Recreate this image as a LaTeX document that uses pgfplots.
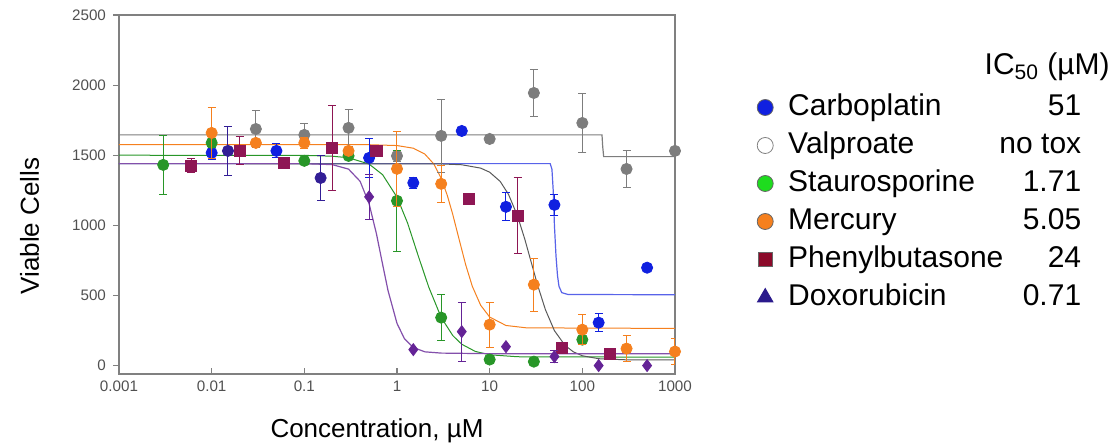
\documentclass[border=0pt]{standalone}
\usepackage{fontspec}
\setmainfont{Liberation Sans}
\usepackage{pgfplots}
\pgfplotsset{compat=1.18}
\definecolor{axgray}{RGB}{128,128,128}
\definecolor{tickgray}{RGB}{80,80,80}
\definecolor{cblue}{RGB}{16,32,224}
\definecolor{cgray}{RGB}{125,125,125}
\definecolor{cgreen}{RGB}{40,150,40}
\definecolor{corange}{RGB}{245,128,30}
\definecolor{cmaroon}{RGB}{142,22,84}
\definecolor{cpurple}{RGB}{100,35,150}
\definecolor{cindigo}{RGB}{50,30,150}
\definecolor{lgreen}{RGB}{30,220,30}
\definecolor{lmaroon}{RGB}{139,10,42}
\definecolor{lindigo}{RGB}{42,26,140}
\newcommand\legrow[2]{\makebox[110pt][l]{#1}\makebox[36.5pt][r]{#2}}
\begin{document}
\begin{tikzpicture}
\useasboundingbox (-59.5pt,-37pt) rectangle (497.5pt,187pt);
\begin{axis}[
 name=ax, at={(0,0)}, anchor=south west,
 scale only axis, width=278pt, height=179.5pt,
 xmode=log, log basis x=10,
 xmin=0.001, xmax=1000, ymin=-60, ymax=2500,
 xtick={0.001,0.01,0.1,1,10,100,1000},
 xticklabels={0.001,0.01,0.1,1,10,100,1000},
 ytick={0,500,1000,1500,2000,2500},
 yticklabels={0,500,1000,1500,2000,2500},
 xminorticks=false, yminorticks=false,
 xtick pos=bottom, ytick pos=left,
 xtick align=inside, ytick align=outside,
 major tick length=3pt,
 axis line style={color=axgray, line width=0.8pt},
 every tick/.style={color=axgray, line width=0.6pt},
 ticklabel style={font=\fontsize{7.6pt}{9pt}\selectfont, text=tickgray},
 /pgf/number format/assume math mode=true,
 xlabel={Concentration, µM}, ylabel={Viable Cells},
 label style={font=\fontsize{13pt}{15pt}\selectfont},
 xlabel style={at={(axis description cs:0.464,-0.178)}, anchor=base},
 ylabel style={at={(axis description cs:-0.144,0.412)}, anchor=base},
 clip mode=individual,
 legend style={at={(axis description cs:1.1364,0.7936)}, anchor=north west,
   draw=none, fill=none, font=\fontsize{15pt}{18pt}\selectfont,
   row sep=5pt, nodes={inner sep=0pt, text height=11pt, text depth=3pt},
   /tikz/every odd column/.append style={column sep=7.5pt}},
 legend cell align=left,
 error bars/error bar style={line width=0.5pt},
 error bars/error mark options={rotate=90, mark size=2pt, line width=0.5pt},
]
% ---- fitted curves ----
\addplot[cgray, line width=0.6pt, forget plot] coordinates {
 (0.001,1645) (163,1645) (166,1560) (170,1490) (1000,1490)};
\addplot[cblue!70, line width=0.6pt, forget plot] coordinates {
 (0.001,1440) (45,1440) (47,1400) (48.5,1250) (50,1000) (52,780) (54,640) (56,565) (60,520) (70,507) (1000,505)};
\addplot[corange, line width=0.5pt, forget plot] coordinates {
 (0.001,1575) (0.5,1575) (1,1569) (1.5,1550) (2,1508) (2.5,1437) (3,1335) (3.5,1211) (4,1077) (4.6,920) (5.5,721) (6.5,565) (8,430) (10,346) (15,286) (25,269) (1000,265)};
\addplot[cgreen, line width=0.5pt, forget plot] coordinates {
 (0.001,1500) (0.1,1499) (0.2,1493) (0.3,1482) (0.5,1437) (0.7,1361) (1,1201) (1.3,1017) (1.7,780) (2.2,560) (3,343) (4,214) (5,152) (7,101) (10,77) (20,63) (1000,60)};
\addplot[black!65, line width=0.5pt, forget plot] coordinates {
 (0.001,1440) (3,1438) (5,1432) (8,1408) (10,1379) (13,1313) (16,1220) (20,1066) (24,899) (28,740) (33,571) (40,398) (50,249) (65,144) (80,98) (100,70) (150,49) (300,41) (1000,40)};
\addplot[cpurple!80, line width=0.6pt, forget plot] coordinates {
 (0.001,1440) (0.1,1440) (0.2,1433) (0.3,1401) (0.4,1314) (0.5,1154) (0.6,940) (0.7,721) (0.8,535) (1,301) (1.2,193) (1.5,129) (2,98) (3,89) (10,85) (1000,85)};
% ---- data points ----
\addplot[only marks, mark=*, mark size=2.8pt, color=cgray, forget plot,
 error bars/.cd, y dir=both, y explicit] table[x=x, y=y, y error=e] {
x y e
0.03 1687 135
0.1 1645 80
0.3 1695 130
1 1495 40
3 1638 260
10 1616 20
30 1944 170
100 1730 210
300 1402 135
1000 1531 0
};
\addplot[only marks, mark=*, mark size=2.8pt, color=cblue, forget plot,
 error bars/.cd, y dir=both, y explicit] table[x=x, y=y, y error=e] {
x y e
0.01 1517 50
0.05 1531 50
0.5 1481 140
1.5 1303 40
5 1673 10
15 1132 100
50 1146 75
150 306 65
500 698 0
};
\addplot[only marks, mark=*, mark size=2.8pt, color=cindigo, forget plot,
 error bars/.cd, y dir=both, y explicit] table[x=x, y=y, y error=e] {
x y e
0.015 1531 175
0.15 1338 160
};
\addplot[only marks, mark=*, mark size=2.8pt, color=cgreen, forget plot,
 error bars/.cd, y dir=both, y explicit] table[x=x, y=y, y error=e] {
x y e
0.003 1431 210
0.01 1588 30
0.1 1460 20
0.3 1495 20
1 1175 360
3 342 165
10 43 0
30 28 0
100 185 0
};
\addplot[only marks, mark=*, mark size=2.8pt, color=corange, forget plot,
 error bars/.cd, y dir=both, y explicit] table[x=x, y=y, y error=e] {
x y e
0.01 1659 180
0.03 1588 20
0.1 1588 40
0.3 1531 20
1 1403 267
3 1296 130
10 292 160
30 577 190
100 256 105
300 121 95
1000 100 95
};
\addplot[only marks, mark=square*, mark size=2.8pt, color=cmaroon, forget plot,
 error bars/.cd, y dir=both, y explicit] table[x=x, y=y, y error=e] {
x y e
0.006 1424 50
0.02 1531 100
0.06 1445 0
0.2 1552 300
0.6 1531 0
6 1189 0
20 1068 270
60 128 0
200 85 0
};
\addplot[only marks, mark=diamond*, mark size=3pt, color=cpurple, forget plot,
 error bars/.cd, y dir=both, y explicit] table[x=x, y=y, y error=e] {
x y e
0.5 1203 160
1.5 114 0
5 242 210
15 135 0
50 64 40
150 0 0
500 0 0
};
% ---- legend ----
\addlegendimage{only marks, mark=*, mark size=4pt, draw=black!60, fill=cblue}
\addlegendimage{only marks, mark=o, mark size=4pt, draw=black!50}
\addlegendimage{only marks, mark=*, mark size=4pt, draw=black!60, fill=lgreen}
\addlegendimage{only marks, mark=*, mark size=4pt, draw=black!60, fill=corange}
\addlegendimage{only marks, mark=square*, mark size=3.6pt, draw=black!60, fill=lmaroon}
\addlegendimage{only marks, mark=triangle*, mark size=4.5pt, draw=lindigo, fill=lindigo}
\legend{\legrow{Carboplatin}{51}, \legrow{Valproate}{no tox}, \legrow{Staurosporine}{1.71}, \legrow{Mercury}{5.05}, \legrow{Phenylbutasone}{24}, \legrow{Doxorubicin}{0.71}}
\end{axis}
\node[anchor=base east, inner sep=0pt, font=\fontsize{15pt}{18pt}\selectfont] at (495.5pt,149.5pt) {IC\textsubscript{50} (µM)};
\end{tikzpicture}
\end{document}
